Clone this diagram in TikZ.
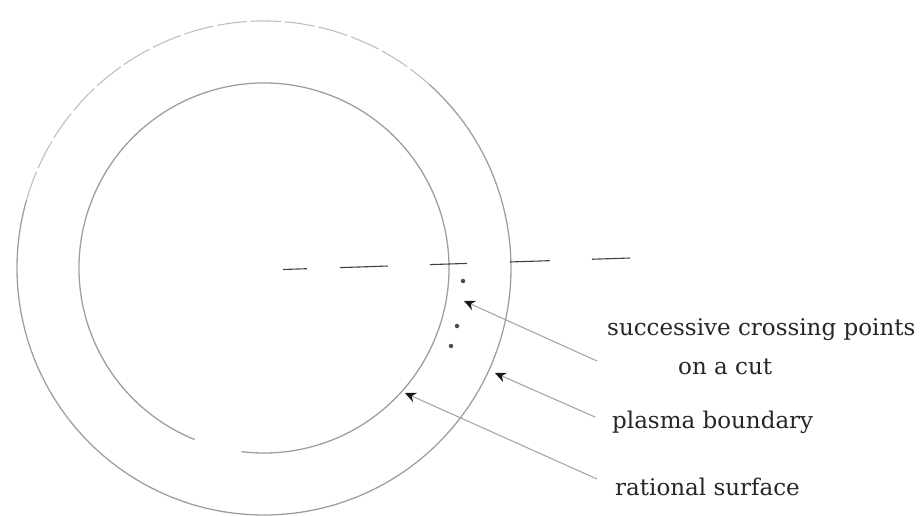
\documentclass[tikz,border=0pt]{standalone}
\usepackage{fontspec}
\setmainfont{DejaVu Serif}
\usetikzlibrary{positioning}
\usetikzlibrary{arrows.meta}

\begin{document}
\begin{tikzpicture}[
    x=1pt, y=-1pt,
    surface/.style={draw=gray!75, line width=1.3pt},
    faint/.style={draw=gray!50, line width=1.1pt, dash pattern=on 30pt off 4pt},
    cutline/.style={draw=black!75, line width=1.1pt, dash pattern=on 24pt off 33pt on 48pt off 42pt on 37pt off 43pt on 40pt off 42pt on 38pt off 10pt},
    note/.style={anchor=west, inner sep=0pt, text=black!85, font=\fontsize{23}{27}\selectfont},
    pointer/.style={draw=gray!70, line width=1.1pt, -{Stealth[length=11pt, width=10pt, black!90]}},
    crossing/.style={circle, fill=black!70, inner sep=0pt, minimum size=4.5pt}
]
    \useasboundingbox (0,0) rectangle (920,516);
    \coordinate (c) at (264,268);

    % plasma boundary
    \draw[surface] ([shift={(312:247)}]c) arc[start angle=312, end angle=556, radius=247];
    \draw[faint] ([shift={(196:247)}]c) arc[start angle=196, end angle=312, radius=247];

    % rational surface, broken near the bottom
    \draw[surface] ([shift={(112:185)}]c) arc[start angle=112, end angle=457, radius=185];

    % the cut
    \draw[cutline] (283,269.5) -- (630,258);

    % successive crossing points
    \node[crossing] (p1) at (463,281) {};
    \node[crossing] (p2) at (457,326) {};
    \node[crossing] (p3) at (451,346) {};
    \coordinate (p0) at (464,301);
    \coordinate (b0) at (495,373);
    \coordinate (r0) at (405,393);

    \node[note] (cross) at (607,330) {successive crossing points};
    \node[note] (cut) at (678,367) {on a cut};
    \node[note] (plasma) at (612,422) {plasma boundary};
    \node[note] (rational) at (615,487) {rational surface};

    \coordinate (t1) at (597,361);
    \coordinate (t2) at (595,417);
    \coordinate (t3) at (597,479);

    \draw[pointer] (t1) -- (p0);
    \draw[pointer] (t2) -- (b0);
    \draw[pointer] (t3) -- (r0);
\end{tikzpicture}
\end{document}
